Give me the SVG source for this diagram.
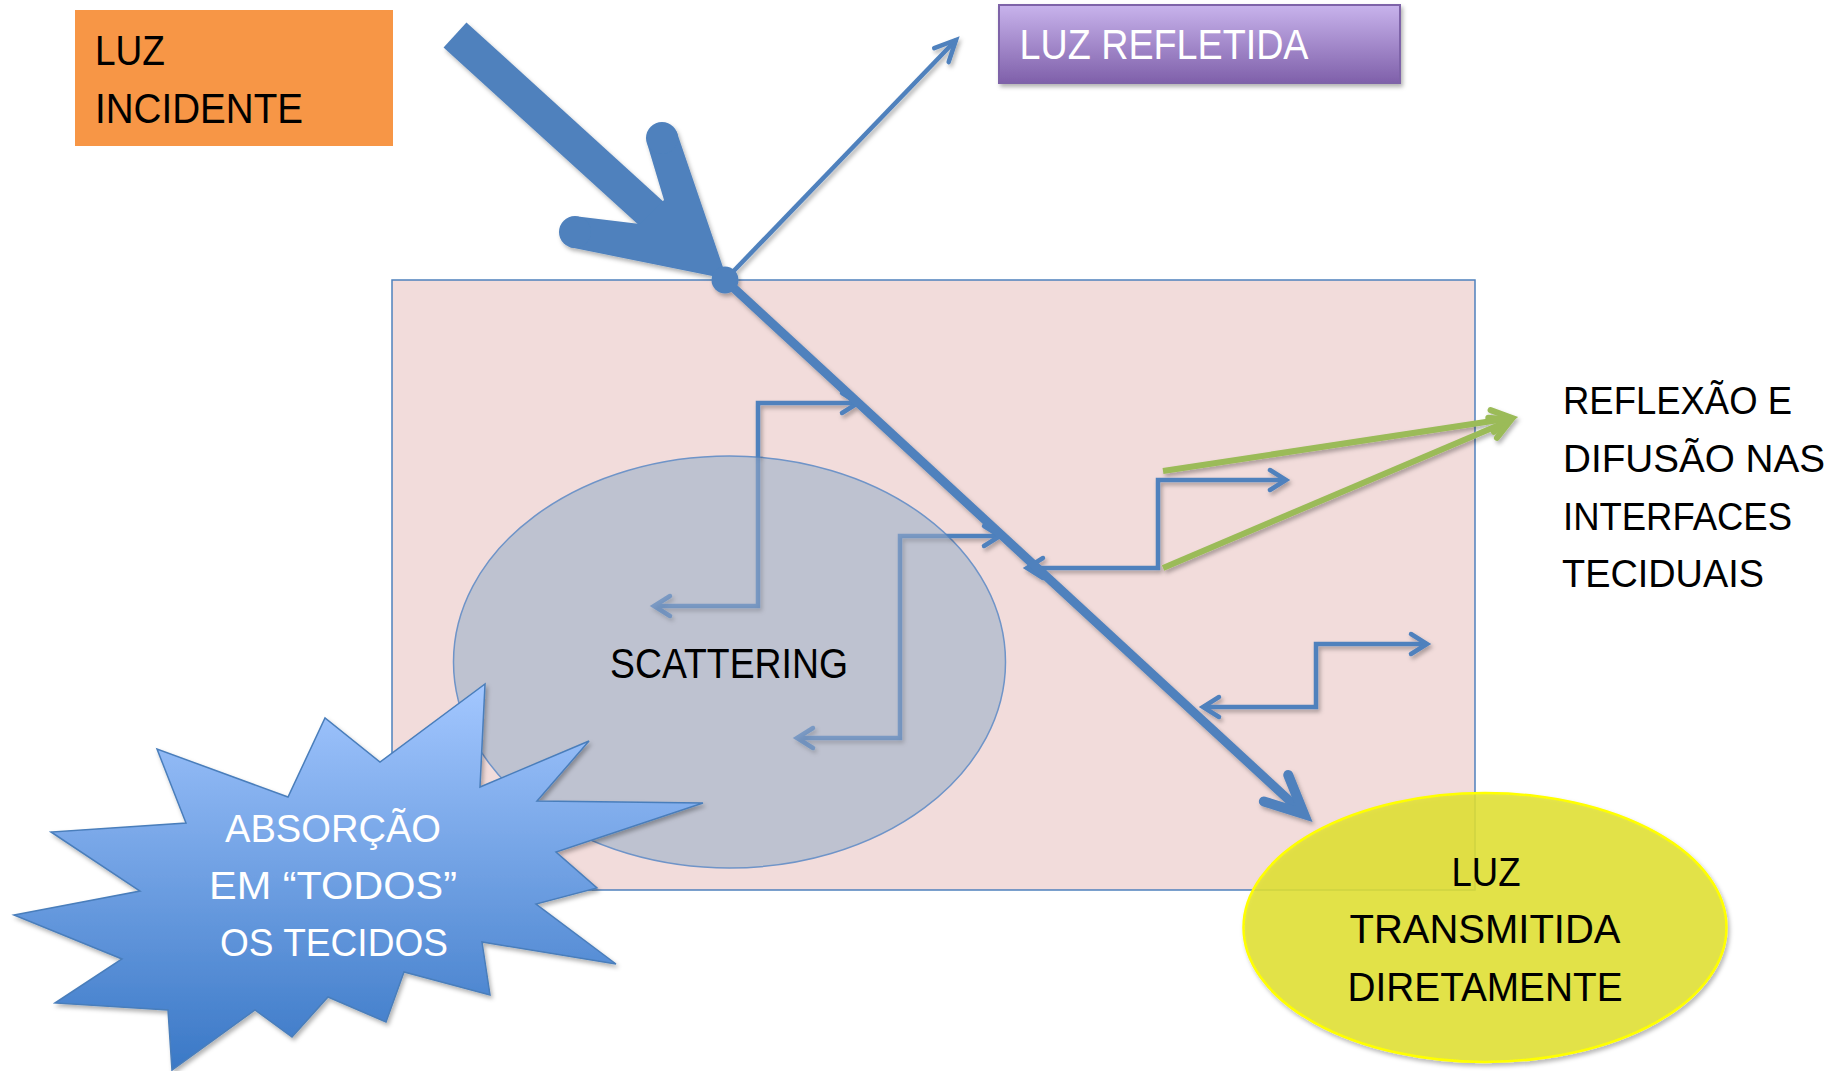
<svg xmlns="http://www.w3.org/2000/svg" width="1837" height="1071" viewBox="0 0 1837 1071">
<defs>
<style>
.t{font-family:"Liberation Sans",Arial,sans-serif;}
.blk{fill:#000;}
.wht{fill:#fff;}
.ray{fill:none;stroke:#4F81BD;stroke-width:4.5;stroke-linejoin:miter;}
.grn{fill:none;stroke:#9BBB59;stroke-width:6;}
.bl{fill:#4F81BD;}
</style>
<linearGradient id="gPurple" x1="0" y1="0" x2="0" y2="1">
<stop offset="0" stop-color="#C8B3EC"/>
<stop offset="1" stop-color="#7F60AA"/>
</linearGradient>
<linearGradient id="gStar" gradientUnits="userSpaceOnUse" x1="0" y1="684" x2="0" y2="1070">
<stop offset="0" stop-color="#A3C7FF"/>
<stop offset="1" stop-color="#3A78C6"/>
</linearGradient>
<filter id="sh" filterUnits="userSpaceOnUse" x="0" y="0" width="1837" height="1071">
<feDropShadow dx="2" dy="3" stdDeviation="2" flood-color="#000" flood-opacity="0.3"/>
</filter>
<mask id="fade" maskUnits="userSpaceOnUse" x="0" y="0" width="1837" height="1071">
<rect width="1837" height="1071" fill="#fff"/>
<ellipse cx="729.5" cy="662" rx="276" ry="206" fill="#999"/>
</mask>
<marker id="mZ" markerUnits="userSpaceOnUse" orient="auto-start-reverse" overflow="visible" markerWidth="1" markerHeight="1">
<path d="M-16,-10 L0,0 L-16,10" fill="none" stroke="#4F81BD" stroke-width="4.5" stroke-linecap="round"/>
</marker>
<marker id="mR" markerUnits="userSpaceOnUse" orient="auto" overflow="visible" markerWidth="1" markerHeight="1">
<path d="M-21,-10 L0,0 L-21,10" fill="none" stroke="#4F81BD" stroke-width="4.5" stroke-linecap="round"/>
</marker>
<marker id="mT" markerUnits="userSpaceOnUse" orient="auto" overflow="visible" markerWidth="1" markerHeight="1">
<path d="M-38,-18 L0,0 L-38,18" fill="none" stroke="#4F81BD" stroke-width="10" stroke-linecap="round"/>
</marker>
<marker id="mG" markerUnits="userSpaceOnUse" orient="auto" overflow="visible" markerWidth="1" markerHeight="1">
<path d="M-20,-11 L0,0 L-20,11" fill="none" stroke="#9BBB59" stroke-width="6" stroke-linecap="round"/>
</marker>
</defs>

<rect width="1837" height="1071" fill="#fff"/>

<g id="tissue">
<rect x="392" y="280" width="1083" height="610" fill="#F2DCDB" stroke="#4F81BD" stroke-width="1.5"/>
</g>

<g id="scattering">
<ellipse cx="729.5" cy="662" rx="276" ry="206" fill="#8AA8C6" fill-opacity="0.5" stroke="#6F94C8" stroke-width="1.5"/>
<text class="t blk" x="729" y="678" font-size="42" text-anchor="middle" textLength="238" lengthAdjust="spacingAndGlyphs">SCATTERING</text>
</g>

<g id="connectors" filter="url(#sh)">
<path class="ray" mask="url(#fade)" d="M654,606 H758 V403 H858" marker-start="url(#mZ)" marker-end="url(#mZ)"/>
<path class="ray" mask="url(#fade)" d="M797,738 H900 V536 H1000" marker-start="url(#mZ)" marker-end="url(#mZ)"/>
<path class="ray" d="M1027,568 H1158 V480 H1286" marker-start="url(#mZ)" marker-end="url(#mZ)"/>
<path class="ray" d="M1203,707 H1316 V644 H1427" marker-start="url(#mZ)" marker-end="url(#mZ)"/>
<line x1="725" y1="280" x2="956" y2="40" stroke="#4F81BD" stroke-width="4.5" marker-end="url(#mR)"/>
<line x1="725" y1="280" x2="1304" y2="814" stroke="#4F81BD" stroke-width="9" marker-end="url(#mT)"/>
<line class="grn" x1="1163" y1="471" x2="1512" y2="418" marker-end="url(#mG)"/>
<line class="grn" x1="1163" y1="568" x2="1511" y2="420" marker-end="url(#mG)"/>
<g id="incident">
<line x1="455" y1="35" x2="665" y2="226" stroke="#4F81BD" stroke-width="34"/>
<polygon class="bl" points="676.6,131.5 727,279 570.1,247.2 579.9,216.8 640,224 664,200 647.4,144.5"/>
<circle class="bl" cx="662" cy="138" r="16"/>
<circle class="bl" cx="575" cy="232" r="16"/>
<circle class="bl" cx="725" cy="280" r="13.5"/>
</g>
</g>

<g id="absorcao">
<polygon points="485,684 480,787 589,741 537,801 703,803 556,852 597,888 536,904 616,964 482,942 490,995 404,972 386,1022 328,997 292,1037 255,1010 172,1070 168,1010 55,1003 122,959 14,915 140,891 51,832 186,823 157,749 288,797 325,718 380,762" fill="url(#gStar)" stroke="#4A7EBB" stroke-width="1.5" stroke-linejoin="miter" filter="url(#sh)"/>
<text class="t wht" x="333" y="842" font-size="39" text-anchor="middle" textLength="216" lengthAdjust="spacingAndGlyphs">ABSORÇÃO</text>
<text class="t wht" x="333" y="899" font-size="39" text-anchor="middle" textLength="248" lengthAdjust="spacingAndGlyphs">EM “TODOS”</text>
<text class="t wht" x="334" y="956" font-size="39" text-anchor="middle" textLength="228" lengthAdjust="spacingAndGlyphs">OS TECIDOS</text>
</g>

<g id="transmitida">
<ellipse cx="1485" cy="927.5" rx="241.5" ry="134.5" fill="#E3E332" fill-opacity="0.85" stroke="#FFFF00" stroke-width="2.5" filter="url(#sh)"/>
<text class="t blk" x="1486" y="886" font-size="41" text-anchor="middle" textLength="69" lengthAdjust="spacingAndGlyphs">LUZ</text>
<text class="t blk" x="1485" y="943" font-size="41" text-anchor="middle" textLength="271" lengthAdjust="spacingAndGlyphs">TRANSMITIDA</text>
<text class="t blk" x="1485" y="1001" font-size="41" text-anchor="middle" textLength="275" lengthAdjust="spacingAndGlyphs">DIRETAMENTE</text>
</g>

<g id="incidente">
<rect x="75" y="10" width="318" height="136" fill="#F79646"/>
<text class="t blk" x="95" y="65" font-size="42" textLength="70" lengthAdjust="spacingAndGlyphs">LUZ</text>
<text class="t blk" x="95" y="123" font-size="42" textLength="208" lengthAdjust="spacingAndGlyphs">INCIDENTE</text>
</g>

<g id="refletida">
<rect x="999" y="5" width="401" height="78" fill="url(#gPurple)" stroke="#7E63A8" stroke-width="2" filter="url(#sh)"/>
<text class="t wht" x="1019.5" y="59" font-size="42" textLength="289" lengthAdjust="spacingAndGlyphs">LUZ REFLETIDA</text>
</g>

<g id="interfaces">
<text class="t blk" x="1563" y="414" font-size="39" textLength="229" lengthAdjust="spacingAndGlyphs">REFLEXÃO E</text>
<text class="t blk" x="1563" y="472" font-size="39" textLength="262" lengthAdjust="spacingAndGlyphs">DIFUSÃO NAS</text>
<text class="t blk" x="1563" y="530" font-size="39" textLength="229" lengthAdjust="spacingAndGlyphs">INTERFACES</text>
<text class="t blk" x="1562" y="587" font-size="39" textLength="202" lengthAdjust="spacingAndGlyphs">TECIDUAIS</text>
</g>
</svg>
